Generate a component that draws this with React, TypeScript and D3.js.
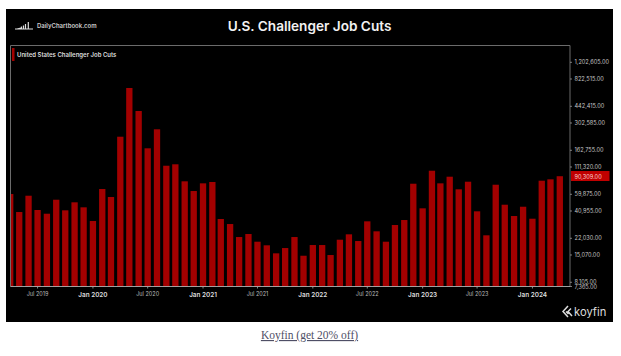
import React from "react";
import * as d3 from "d3";

const firstMonth = new Date(2019, 3, 1);
const jobCuts = [
  60250, 40020, 57970, 41900, 38500, 52930, 41600, 49900, 44530,
  32620, 67500, 56290, 221600, 670700, 397500, 170300, 262300, 114600, 118400, 80400, 64500,
  76800, 79200, 34140, 30460, 22670, 24280, 20380, 18780, 15650, 17650, 22670, 14820,
  18900, 18900, 15060, 21330, 24110, 20700, 32390, 25810, 20380, 29790, 33370, 76130,
  43530, 102300, 76800, 89300, 67050, 79700, 40660, 23570, 74420, 47240, 36550, 45130,
  34370, 81530, 84170, 90309,
];
const yTickValues = [1202605, 822515, 442415, 302585, 162755, 111320, 59875, 40955, 22030, 15070, 8105, 7365];
const xTicks: [number, number, string, boolean][] = [
  [2019, 6, "Jul 2019", false],
  [2020, 0, "Jan 2020", true],
  [2020, 6, "Jul 2020", false],
  [2021, 0, "Jan 2021", true],
  [2021, 6, "Jul 2021", false],
  [2022, 0, "Jan 2022", true],
  [2022, 6, "Jul 2022", false],
  [2023, 0, "Jan 2023", true],
  [2023, 6, "Jul 2023", false],
  [2024, 0, "Jan 2024", true],
];

const FONT = "Inter, 'Liberation Sans', sans-serif";
const fmt = d3.format(",.2f");

export default function App() {
  const y = d3.scaleLog().domain([7365, 1202605]).range([286.5, 62.3]);
  const months = jobCuts.map((_, i) => d3.timeMonth.offset(firstMonth, i));
  const x = d3.scaleTime()
    .domain([months[0], months[months.length - 1]])
    .range([10.2, 559.8]);
  const barW = 6.3;
  const frame = { l: 10.5, r: 570, t: 45.5, b: 286.5 };
  const lastV = jobCuts[jobCuts.length - 1];

  return (
    <div>
      <svg width={621} height={356} style={{ position: "absolute", left: 0, top: 0, background: "#fff" }}>
        <rect x={6} y={9} width={607} height={313} fill="#000" />

        <clipPath id="plot"><rect x={frame.l} y={frame.t} width={frame.r - frame.l} height={frame.b - frame.t} /></clipPath>
        <g clipPath="url(#plot)">
          {jobCuts.map((v, i) => (
            <rect key={i} x={x(months[i]) - barW / 2} y={y(v)} width={barW} height={frame.b - y(v)} fill="#a30000" />
          ))}
        </g>

        <path d={`M${frame.l},${frame.b}V${frame.t}H${frame.r}V${frame.b}`} fill="none" stroke="#6b6b6b" strokeWidth={1} />
        <line x1={frame.l} x2={frame.r} y1={frame.b} y2={frame.b} stroke="#c8c8c8" strokeWidth={0.8} />

        <rect x={12} y={48} width={2.5} height={13} fill="#a30000" />
        <text x={17} y={57} fill="#ddd" fontSize={6} fontWeight={600} fontFamily={FONT}>United States Challenger Job Cuts</text>

        <text x={309.5} y={31} textAnchor="middle" fill="#f2f2f2" fontSize={13.6} fontWeight={600} fontFamily={FONT}>U.S. Challenger Job Cuts</text>

        <path d="M15,29H33 M17,29L21,28 M21.5,28.5V26.5 M23.5,28.5V25.5 M25.5,28.5V24 M28.3,29.5V22" stroke="#ddd" strokeWidth={1.2} fill="none" />
        <text x={37} y={28} fill="#ccc" fontSize={6} fontWeight={600} fontFamily={FONT}>DailyChartbook.com</text>

        {yTickValues.map((v) => (
          <g key={v}>
            <line x1={frame.r} x2={frame.r + 2} y1={y(v)} y2={y(v)} stroke="#999" strokeWidth={0.8} />
            <text x={574.5} y={y(v) + 2} fill="#c4c4c4" fontSize={5.6} fontFamily={FONT}>{fmt(v)}</text>
          </g>
        ))}
        <rect x={571} y={171} width={38.5} height={10} fill="#c00000" />
        <text x={574.5} y={y(lastV) + 2.3} fill="#ffd0d0" fontSize={5.6} fontFamily={FONT}>{fmt(lastV)}</text>

        {xTicks.map(([yr, mo, label, major]) => {
          const px = x(new Date(yr, mo, 1));
          return (
            <g key={label}>
              <line x1={px} x2={px} y1={frame.b} y2={frame.b + 2} stroke="#aaa" strokeWidth={0.8} />
              <text x={px} y={major ? 297 : 295.5} textAnchor="middle" fill={major ? "#ddd" : "#bbb"}
                fontSize={major ? 6.4 : 5.5} fontWeight={major ? 600 : 400} fontFamily={FONT}>{label}</text>
            </g>
          );
        })}

        <path d="M568,306 L563,311.5 L568,317 M571,308.5 L568,311.5 L572,316 M566,311.5 L568.5,314" fill="none" stroke="#ddd" strokeWidth={1.5} />
        <text x={574} y={316} fill="#ddd" fontSize={11.2} fontFamily={FONT}>koyfin</text>

        <a href="#">
          <text x={309.5} y={339} textAnchor="middle" fill="#4f4f66" fontSize={11.5} fontFamily="'Liberation Serif', serif" textDecoration="underline">Koyfin (get 20% off)</text>
        </a>
      </svg>
    </div>
  );
}
